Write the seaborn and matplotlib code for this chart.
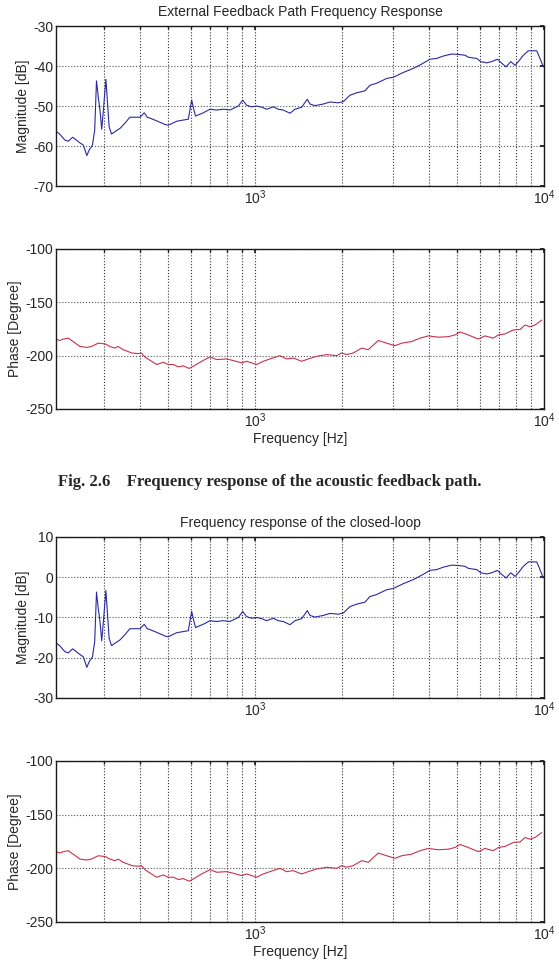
import matplotlib
matplotlib.use("Agg")
import matplotlib.pyplot as plt
import matplotlib.ticker as mticker
import numpy as np
import pandas as pd
import seaborn as sns

# Datos (frecuencia en Hz)
freq_mag = [205, 211, 220, 226, 234, 241, 248, 255, 262, 267, 274, 279, 283, 287,
            291, 295, 299, 305, 308, 313, 319, 328, 341, 355, 369, 400, 414, 424,
            433, 457, 488, 501, 536, 565, 588, 604, 615, 623, 662, 699, 737, 777,
            819, 876, 907, 936, 974, 1014, 1055, 1098, 1157, 1204, 1253, 1322,
            1375, 1451, 1517, 1550, 1613, 1723, 1817, 1891, 1942, 2021, 2132,
            2248, 2402, 2500, 2637, 2856, 3010, 3260, 3530, 3775, 4032, 4253,
            4483, 4793, 5052, 5330, 5471, 5851, 6039, 6337, 6592, 6892, 7140,
            7389, 7671, 7939, 8150, 8481, 8826, 9435, 9632, 9945]
mag_path = [-56.3, -57.0, -58.5, -58.8, -57.8, -58.5, -59.2, -59.8, -62.4, -61.0,
            -59.8, -56.0, -43.7, -47.7, -51.0, -55.8, -51.0, -43.3, -47.7, -55.2,
            -57.0, -56.4, -55.6, -54.3, -52.8, -52.8, -51.7, -52.8, -53.0, -53.7,
            -54.6, -54.8, -53.8, -53.5, -53.3, -48.5, -51.0, -52.5, -51.7, -50.8,
            -51.0, -50.8, -51.0, -50.0, -48.5, -49.8, -50.2, -50.0, -50.3, -50.8,
            -50.2, -50.8, -51.0, -51.8, -50.8, -50.3, -48.3, -49.5, -49.9, -49.5,
            -49.0, -49.1, -49.2, -48.9, -47.3, -46.7, -46.2, -44.8, -44.3, -43.1,
            -42.8, -41.6, -40.6, -39.5, -38.3, -38.1, -37.5, -37.0, -37.1, -37.3,
            -37.8, -38.1, -38.9, -39.2, -38.9, -38.3, -39.3, -40.2, -38.9, -39.8,
            -38.9, -37.3, -36.2, -36.2, -37.7, -40.2]
# el lazo cerrado es la misma curva desplazada +40 dB
mag_closed = [m + 40 for m in mag_path]

freq_ph = [205, 211, 217, 226, 235, 248, 262, 272, 287, 303, 315, 328, 336, 350,
           375, 395, 405, 416, 433, 457, 482, 501, 522, 543, 565, 592, 612, 654,
           699, 737, 798, 841, 900, 936, 974, 1014, 1068, 1127, 1220, 1287, 1357,
           1451, 1529, 1635, 1771, 1918, 1995, 2076, 2189, 2340, 2466, 2671, 2856,
           3050, 3219, 3485, 3724, 3979, 4309, 4667, 4920, 5120, 5471, 5925, 6250,
           6675, 6949, 7331, 7831, 8260, 8596, 8946, 9309, 9818]
phase = [-184.5, -185.8, -184.5, -183.6, -186.8, -191.4, -192.3, -191.4, -188.3,
         -189.0, -191.4, -192.9, -191.4, -194.4, -197.5, -198.1, -197.5, -201.2,
         -204.3, -208.3, -206.2, -208.3, -208.3, -210.5, -209.6, -212.0, -209.9,
         -205.3, -201.2, -203.7, -203.1, -204.6, -206.8, -205.3, -206.8, -208.3,
         -205.3, -203.1, -200.0, -203.1, -202.2, -205.3, -203.1, -200.6, -199.0,
         -200.0, -197.5, -199.0, -197.5, -192.9, -194.4, -185.8, -188.3, -190.7,
         -188.3, -186.8, -183.6, -181.5, -182.7, -182.2, -180.6, -177.8, -180.6,
         -184.5, -181.5, -183.6, -180.6, -179.6, -175.9, -175.5, -171.3, -172.9,
         -171.3, -166.7]

titles = ["External Feedback Path Frequency Response",
          "Frequency response of the closed-loop"]
caption = "Fig. 2.6    Frequency response of the acoustic feedback path."

sns.set_theme(style="white")
plt.rcParams["font.family"] = ["Liberation Sans", "DejaVu Sans"]
plt.rcParams["mathtext.fontset"] = "custom"
plt.rcParams["mathtext.rm"] = "Liberation Sans"
plt.rcParams["axes.unicode_minus"] = False

blue = "#2a2aa0"
red = "#c8324b"

fig = plt.figure(figsize=(5.59, 9.71), dpi=100)
pos = [[0.1002, 0.8084, 0.873, 0.1648],
       [0.1002, 0.5788, 0.873, 0.1648],
       [0.1002, 0.2812, 0.873, 0.1658],
       [0.1002, 0.0505, 0.873, 0.1658]]
axes = [fig.add_axes(p) for p in pos]

df_mag = pd.DataFrame({"f": freq_mag, "a": mag_path, "b": mag_closed})
df_ph = pd.DataFrame({"f": freq_ph, "p": phase})

sns.lineplot(data=df_mag, x="f", y="a", ax=axes[0], color=blue, lw=0.8)
sns.lineplot(data=df_ph, x="f", y="p", ax=axes[1], color=red, lw=0.8)
sns.lineplot(data=df_mag, x="f", y="b", ax=axes[2], color=blue, lw=0.8)
sns.lineplot(data=df_ph, x="f", y="p", ax=axes[3], color=red, lw=0.8)

ylims = [(-70, -30), (-250, -100), (-30, 10), (-250, -100)]
ysteps = [10, 50, 10, 50]
ylabels = ["Magnitude [dB]", "Phase [Degree]", "Magnitude [dB]", "Phase [Degree]"]

for i, ax in enumerate(axes):
    ax.set_xscale("log")
    ax.set_xlim(205, 1e4)
    ax.set_ylim(*ylims[i])
    ax.set_yticks(np.arange(ylims[i][0], ylims[i][1] + 1, ysteps[i]))
    ax.xaxis.set_major_locator(mticker.LogLocator(base=10))
    ax.xaxis.set_minor_locator(mticker.LogLocator(base=10, subs=np.arange(2, 10)))
    ax.xaxis.set_minor_formatter(mticker.NullFormatter())
    ax.grid(True, which="both", axis="x", color="#333333", ls=":", lw=0.8)
    ax.grid(True, which="major", axis="y", color="#555555", ls=":", lw=0.8)
    ax.tick_params(which="both", direction="in", top=True, right=True,
                   labelsize=10, length=3, color="k", pad=2)
    ax.tick_params(which="minor", length=2)
    for s in ax.spines.values():
        s.set_color("k")
        s.set_linewidth(1.0)
    ax.set_ylabel(ylabels[i], fontsize=10, labelpad=2)
    ax.set_xlabel("Frequency [Hz]" if i in (1, 3) else "", fontsize=10, labelpad=1)

axes[0].set_title(titles[0], fontsize=10, pad=7)
axes[2].set_title(titles[1], fontsize=10, pad=7)

fig.text(0.483, 1 - 482 / 971, caption, ha="center", va="center",
         fontsize=12, fontweight="bold", family=["Liberation Serif"])

fig.savefig("out.png", dpi=100)
